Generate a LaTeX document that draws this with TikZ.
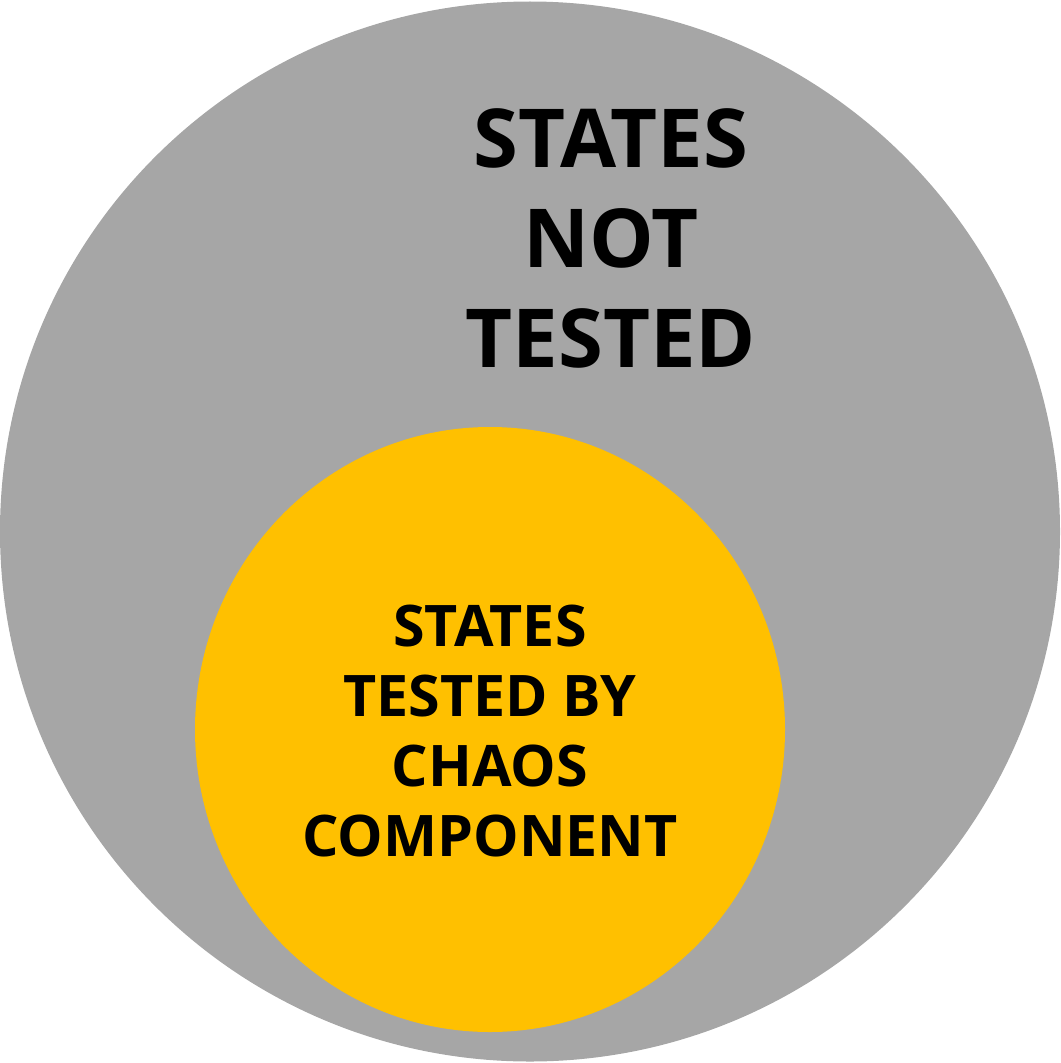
\documentclass[tikz,border=0pt]{standalone}
\usepackage{fontspec}
\setmainfont{Open Sans}
\definecolor{outergray}{HTML}{A6A6A6}
\definecolor{inneryellow}{HTML}{FFC000}
\begin{document}
\begin{tikzpicture}[x=0.75pt,y=-0.75pt,
  bigtext/.style={font=\bfseries\fontsize{61}{75}\selectfont, align=center, inner sep=0pt},
  smalltext/.style={font=\bfseries\fontsize{43}{52.5}\selectfont, align=center, inner sep=0pt}]
  \useasboundingbox (0,0) rectangle (1060,1063);
  % outer set: all states
  \fill[outergray] (530,531.5) circle[radius=530];
  % inner set: states exercised by the chaos component
  \fill[inneryellow] (490,729.5) ellipse[x radius=295, y radius=302.5];
  \node[bigtext] (untested) at (611,238) {STATES\\NOT\\TESTED};
  \node[smalltext] (tested) at (490,731) {STATES\\TESTED BY\\CHAOS\\COMPONENT};
\end{tikzpicture}
\end{document}
